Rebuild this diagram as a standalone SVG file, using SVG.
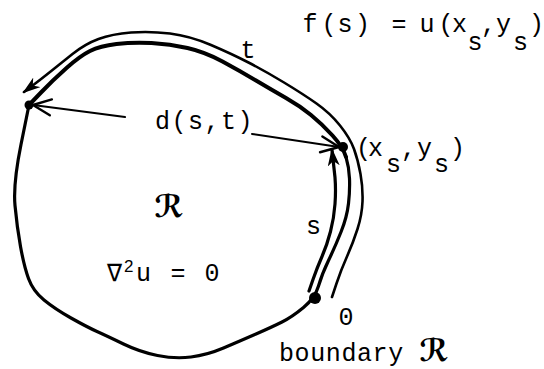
<svg xmlns="http://www.w3.org/2000/svg" width="544" height="369" viewBox="0 0 544 369">
<style>
 .ln{fill:none;stroke:#000;stroke-linecap:round;stroke-linejoin:round}
 .tx{font-family:"Liberation Mono","DejaVu Sans Mono",monospace;font-size:25px;fill:#000}
 .sc{font-family:"DejaVu Serif","DejaVu Sans",serif;font-size:31px;font-weight:bold;fill:#000;text-anchor:middle}
 .sup{font-family:"Liberation Sans",Arial,sans-serif;font-size:17px;fill:#000}
 .dot{fill:#000}
</style>
<defs>
 <marker id="headFilled" markerUnits="userSpaceOnUse" viewBox="0 0 18 12" refX="16" refY="6" markerWidth="18" markerHeight="12" orient="auto"><path d="M0,0 L18,6 L0,12 L5,6 z" fill="#000"/></marker>
 <marker id="headOpen" markerUnits="userSpaceOnUse" viewBox="-1 -1 22 20" refX="19" refY="9" markerWidth="22" markerHeight="20" orient="auto"><path d="M1,1 L19,9 L1,17" fill="none" stroke="#000" stroke-width="2.4" stroke-linecap="round" stroke-linejoin="round"/></marker>
</defs>
<rect width="544" height="369" fill="#fff"/>
<g id="region">
 <path class="ln" stroke-width="4" d="M29,105 L41,92.5 Q53,80 66.5,68 Q80,56 90,51 Q100,46 116.5,44 Q133,42 151.5,43 Q170,44 187.5,48 Q205,52 222.5,61.5 Q240,71 256,80.5 Q272,90 286,98 Q300,106 311,115 Q322,124 332.5,135.5 Q343,147 346,157"/>
 <path class="ln" stroke-width="3.2" d="M346,157 Q349,167 349.5,178.5 Q350,190 348.5,203.5 Q347,217 341,232 Q335,247 328.5,260.5 Q322,274 318.5,286 Q315,298 303.5,307.5 Q292,317 282,322 Q272,327 256,334 Q240,341 223.5,348 Q207,355 191,357 Q175,359 157.5,355.5 Q140,352 123.5,344 Q107,336 97,331.5 Q87,327 71,318 Q55,309 44,300 Q33,291 28.5,278.5 Q24,266 20.5,246.5 Q17,227 15,205.5 Q13,184 21,144.5 L29,105"/>
 <text class="sc" x="169" y="217">ℛ</text>
 <text class="tx" x="107" y="281">∇</text>
 <text class="sup" x="124" y="272">2</text>
 <text class="tx" x="136 153 170.5 188 204.5" y="281">u = 0</text>
 <text class="tx" x="279" y="361" letter-spacing="0.6">boundary</text>
 <text class="sc" x="434" y="361">ℛ</text>
</g>
<g id="connectors">
 <path id="arc-t" class="ln" stroke-width="2.6" marker-end="url(#headFilled)" d="M332,297 L336.5,283.5 Q341,270 347,256.5 Q353,243 357.5,229 Q362,215 362.5,201.5 Q363,188 360.5,174 Q358,160 354,149 Q350,138 340,125.5 Q330,113 316.5,103.5 Q303,94 284,82.5 Q265,71 248.5,62.5 Q232,54 211,45 Q190,36 170,33.5 Q150,31 131,32.5 Q112,34 98.5,39 Q85,44 72.5,54 Q60,64 50,72 Q40,80 32,86 L24,92"/>
 <path id="arc-s" class="ln" stroke-width="3.2" marker-end="url(#headFilled)" d="M309,291 L313,279.5 Q317,268 322,256.5 Q327,245 330.5,231.5 Q334,218 335,204 Q336,190 335,177.5 L332,150"/>
 <path id="d-left" class="ln" stroke-width="2" marker-end="url(#headOpen)" d="M125,117 L33,105"/>
 <path id="d-right" class="ln" stroke-width="2" marker-end="url(#headOpen)" d="M252,134 L339,147"/>
</g>
<g id="point-t">
 <circle class="dot" cx="29" cy="105" r="4.5"/>
</g>
<g id="point-s">
 <circle class="dot" cx="343" cy="147" r="5"/>
 <text class="tx"><tspan x="356 368" y="156">(x</tspan><tspan x="386" y="172">s</tspan><tspan x="401 417" y="156">,y</tspan><tspan x="434" y="172">s</tspan><tspan x="450" y="156">)</tspan></text>
</g>
<g id="point-0">
 <circle class="dot" cx="315" cy="298" r="6"/>
 <text class="tx" x="338.5" y="325">0</text>
</g>
<g id="labels">
 <text class="tx" x="240.5" y="58">t</text>
 <text class="tx" x="306" y="234">s</text>
 <text class="tx" x="155" y="129" letter-spacing="1.5">d(s,t)</text>
 <text class="tx"><tspan x="302.5 321.5 337.5 355 374.5 391.5 408 419.5 438.5 452" y="32">f(s) = u(x</tspan><tspan x="467.5" y="50">s</tspan><tspan x="481 496" y="32">,y</tspan><tspan x="513" y="50">s</tspan><tspan x="529" y="32">)</tspan></text>
</g>
</svg>
